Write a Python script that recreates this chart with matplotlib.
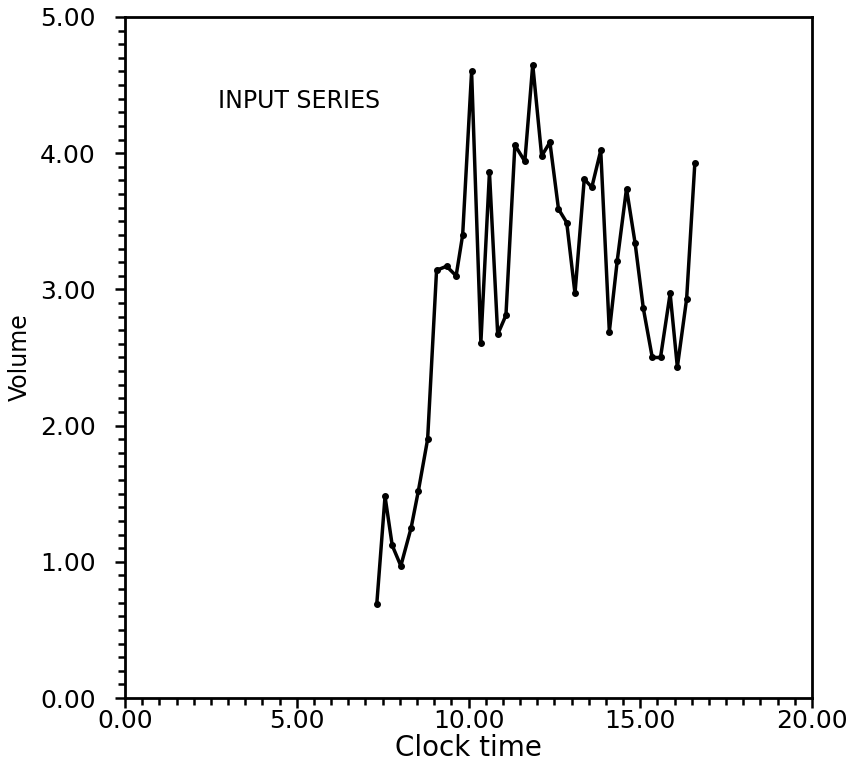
import matplotlib
matplotlib.use("Agg")
import matplotlib.pyplot as plt
from matplotlib.ticker import MultipleLocator, FormatStrFormatter

# Input volume series sampled over clock time
clock_time = [7.33, 7.57, 7.78, 8.03, 8.33, 8.54, 8.81, 9.07, 9.36, 9.64,
              9.83, 10.09, 10.36, 10.61, 10.85, 11.09, 11.35, 11.64, 11.87, 12.13,
              12.37, 12.62, 12.86, 13.10, 13.37, 13.59, 13.85, 14.10, 14.33, 14.60,
              14.85, 15.09, 15.35, 15.59, 15.87, 16.08, 16.35, 16.59]
volume = [0.69, 1.48, 1.12, 0.97, 1.25, 1.52, 1.90, 3.14, 3.17, 3.10,
          3.40, 4.60, 2.61, 3.86, 2.67, 2.81, 4.06, 3.94, 4.65, 3.98,
          4.08, 3.59, 3.49, 2.97, 3.81, 3.75, 4.02, 2.69, 3.21, 3.74,
          3.34, 2.86, 2.50, 2.50, 2.97, 2.43, 2.93, 3.93]

title_text = "INPUT SERIES"
x_label = "Clock time"
y_label = "Volume"

plt.rcParams['font.family'] = ['DejaVu Sans']

fig = plt.figure(figsize=(8.47, 7.70), dpi=100)
ax = fig.add_axes([125 / 847, 72 / 770, 687 / 847, 681 / 770])

ax.plot(clock_time, volume, color="black", linewidth=2.5,
        marker="o", markersize=4, markerfacecolor="black",
        markeredgecolor="black", solid_joinstyle="round")

ax.set_xlim(0, 20)
ax.set_ylim(0, 5)

ax.xaxis.set_major_locator(MultipleLocator(5))
ax.xaxis.set_minor_locator(MultipleLocator(0.5))
ax.yaxis.set_major_locator(MultipleLocator(1))
ax.yaxis.set_minor_locator(MultipleLocator(0.1))
ax.xaxis.set_major_formatter(FormatStrFormatter("%.2f"))
ax.yaxis.set_major_formatter(FormatStrFormatter("%.2f"))

ax.tick_params(axis="both", which="major", direction="out", length=7,
               width=1.8, labelsize=18, color="black")
ax.tick_params(axis="both", which="minor", direction="out", length=5,
               width=1.8, color="black")
ax.tick_params(axis="x", which="major", pad=1)
ax.tick_params(axis="y", which="major", pad=14)

for spine in ax.spines.values():
    spine.set_linewidth(2.0)
    spine.set_color("black")

ax.set_xlabel(x_label, fontsize=20, labelpad=1)
ax.set_ylabel(y_label, fontsize=17, labelpad=6)

ax.text(2.7, 4.38, title_text, fontsize=17, ha="left", va="center")

fig.savefig("out.png", dpi=100)
